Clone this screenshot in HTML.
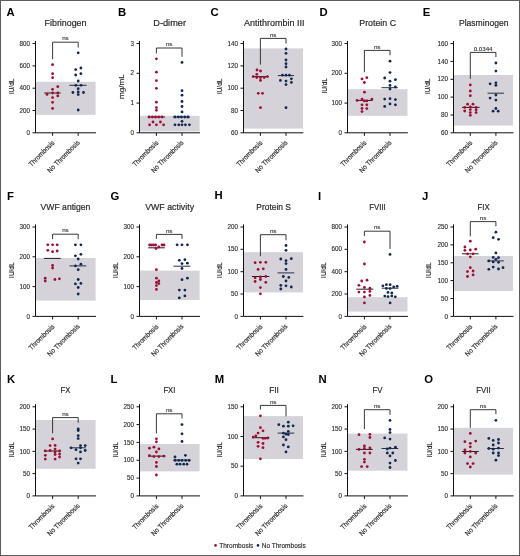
<!DOCTYPE html>
<html><head><meta charset="utf-8"><style>
html,body{margin:0;padding:0;background:#fff;}
body{width:520px;height:556px;overflow:hidden;}
svg{display:block;will-change:transform;}
text{font-family:"Liberation Sans", sans-serif;}
.lt{font-size:11.3px;font-weight:bold;fill:#000;}
.tt{font-size:9px;fill:#2a2a2a;stroke:#2a2a2a;stroke-width:0.2px;}
.tk{font-size:6.3px;fill:#2a2a2a;stroke:#2a2a2a;stroke-width:0.12px;text-anchor:end;}
.xl{font-size:7.0px;fill:#2a2a2a;stroke:#2a2a2a;stroke-width:0.18px;text-anchor:end;}
.yl{font-size:6.4px;fill:#2a2a2a;stroke:#2a2a2a;stroke-width:0.15px;text-anchor:middle;}
.ns{font-size:6.2px;fill:#2a2a2a;stroke:#2a2a2a;stroke-width:0.1px;text-anchor:middle;}
.lg{font-size:7px;fill:#2a2a2a;stroke:#2a2a2a;stroke-width:0.15px;}
.ax{stroke:#111;stroke-width:1;fill:none;}
.br{stroke:#222;stroke-width:0.9;fill:none;}
.md{stroke-width:1;fill:none;}
</style></head><body>
<svg width="520" height="556" viewBox="0 0 520 556">
<rect x="0.5" y="0.5" width="519" height="555" fill="#fff" stroke="#5c5c5c" stroke-width="1"/>
<text x="6.4" y="16.2" class="lt">A</text>
<text x="44.6" y="26.3" class="tt" textLength="41.8" lengthAdjust="spacingAndGlyphs">Fibrinogen</text>
<rect x="36.0" y="81.8" width="59.6" height="33.0" fill="#d5d3d9"/>
<path d="M35.5,41.0V132.8H96.0" class="ax"/>
<path d="M32.5,132.8H35.5" class="ax"/>
<text x="30.0" y="134.9" class="tk">0</text>
<path d="M32.5,110.5H35.5" class="ax"/>
<text x="30.0" y="112.6" class="tk">200</text>
<path d="M32.5,88.2H35.5" class="ax"/>
<text x="30.0" y="90.3" class="tk">400</text>
<path d="M32.5,65.9H35.5" class="ax"/>
<text x="30.0" y="68.0" class="tk">600</text>
<path d="M32.5,43.6H35.5" class="ax"/>
<text x="30.0" y="45.7" class="tk">800</text>
<path d="M52.6,132.8V135.8" class="ax"/>
<path d="M78.2,132.8V135.8" class="ax"/>
<text transform="translate(55.1,143.3) rotate(-45)" class="xl" textLength="33.4" lengthAdjust="spacingAndGlyphs">Thrombosis</text>
<text transform="translate(80.2,143.1) rotate(-45)" class="xl" textLength="42.6" lengthAdjust="spacingAndGlyphs">No Thrombosis</text>
<text transform="translate(13.6,86.4) rotate(-90)" class="yl" style="font-size:7.4px" textLength="15.4" lengthAdjust="spacingAndGlyphs">IU/dL</text>
<path d="M52.6,59.2V42.2H78.2V47.6" class="br"/>
<text x="65.4" y="40.3" class="ns">ns</text>
<path d="M44.3,93.0H60.7" class="md" stroke="#2a1a20"/>
<path d="M69.3,85.3H86.6" class="md" stroke="#283040"/>
<circle cx="52.6" cy="64.7" r="1.4" fill="#9e0d33"/>
<circle cx="52.6" cy="73.7" r="1.4" fill="#9e0d33"/>
<circle cx="52.6" cy="77.7" r="1.4" fill="#9e0d33"/>
<circle cx="57.8" cy="86.7" r="1.4" fill="#9e0d33"/>
<circle cx="52.6" cy="89.3" r="1.4" fill="#9e0d33"/>
<circle cx="47.0" cy="94.4" r="1.4" fill="#9e0d33"/>
<circle cx="52.6" cy="93.0" r="1.4" fill="#9e0d33"/>
<circle cx="57.8" cy="93.0" r="1.4" fill="#9e0d33"/>
<circle cx="57.8" cy="95.9" r="1.4" fill="#9e0d33"/>
<circle cx="52.6" cy="97.6" r="1.4" fill="#9e0d33"/>
<circle cx="52.6" cy="102.3" r="1.4" fill="#9e0d33"/>
<circle cx="52.6" cy="108.4" r="1.4" fill="#9e0d33"/>
<circle cx="78.2" cy="52.8" r="1.4" fill="#12284f"/>
<circle cx="75.7" cy="69.6" r="1.4" fill="#12284f"/>
<circle cx="80.9" cy="68.0" r="1.4" fill="#12284f"/>
<circle cx="75.7" cy="75.0" r="1.4" fill="#12284f"/>
<circle cx="80.9" cy="73.7" r="1.4" fill="#12284f"/>
<circle cx="78.2" cy="81.0" r="1.4" fill="#12284f"/>
<circle cx="75.8" cy="85.3" r="1.4" fill="#12284f"/>
<circle cx="81.1" cy="85.3" r="1.4" fill="#12284f"/>
<circle cx="78.2" cy="88.7" r="1.4" fill="#12284f"/>
<circle cx="72.9" cy="92.5" r="1.4" fill="#12284f"/>
<circle cx="78.2" cy="92.0" r="1.4" fill="#12284f"/>
<circle cx="83.5" cy="92.5" r="1.4" fill="#12284f"/>
<circle cx="78.2" cy="94.6" r="1.4" fill="#12284f"/>
<circle cx="78.2" cy="110.0" r="1.4" fill="#12284f"/>
<text x="117.9" y="16.0" class="lt">B</text>
<text x="153.3" y="26.3" class="tt" textLength="32.7" lengthAdjust="spacingAndGlyphs">D-dimer</text>
<rect x="140.0" y="115.8" width="59.6" height="15.6" fill="#d5d3d9"/>
<path d="M139.5,41.0V132.8H200.0" class="ax"/>
<path d="M136.5,132.8H139.5" class="ax"/>
<text x="134.0" y="134.9" class="tk">0</text>
<path d="M136.5,103.1H139.5" class="ax"/>
<text x="134.0" y="105.2" class="tk">1</text>
<path d="M136.5,73.3H139.5" class="ax"/>
<text x="134.0" y="75.4" class="tk">2</text>
<path d="M136.5,43.6H139.5" class="ax"/>
<text x="134.0" y="45.7" class="tk">3</text>
<path d="M156.4,132.8V135.8" class="ax"/>
<path d="M182.0,132.8V135.8" class="ax"/>
<text transform="translate(158.9,143.3) rotate(-45)" class="xl" textLength="33.4" lengthAdjust="spacingAndGlyphs">Thrombosis</text>
<text transform="translate(184.0,143.1) rotate(-45)" class="xl" textLength="42.6" lengthAdjust="spacingAndGlyphs">No Thrombosis</text>
<text transform="translate(124.0,86.7) rotate(-90)" class="yl" style="font-size:7.2px" textLength="24.7" lengthAdjust="spacingAndGlyphs">mg/mL</text>
<path d="M156.4,53.4V48.0H182.0V56.8" class="br"/>
<text x="169.2" y="46.1" class="ns">ns</text>
<path d="M148.4,117.0H165.0" class="md" stroke="#2a1a20"/>
<path d="M173.0,117.0H190.0" class="md" stroke="#283040"/>
<circle cx="156.4" cy="58.8" r="1.4" fill="#9e0d33"/>
<circle cx="156.4" cy="72.2" r="1.4" fill="#9e0d33"/>
<circle cx="156.4" cy="80.6" r="1.4" fill="#9e0d33"/>
<circle cx="156.4" cy="88.3" r="1.4" fill="#9e0d33"/>
<circle cx="156.4" cy="102.2" r="1.4" fill="#9e0d33"/>
<circle cx="156.4" cy="107.6" r="1.4" fill="#9e0d33"/>
<circle cx="156.4" cy="110.3" r="1.4" fill="#9e0d33"/>
<circle cx="149.0" cy="117.0" r="1.4" fill="#9e0d33"/>
<circle cx="152.4" cy="117.0" r="1.4" fill="#9e0d33"/>
<circle cx="155.6" cy="117.0" r="1.4" fill="#9e0d33"/>
<circle cx="158.8" cy="117.0" r="1.4" fill="#9e0d33"/>
<circle cx="162.0" cy="117.0" r="1.4" fill="#9e0d33"/>
<circle cx="153.0" cy="122.0" r="1.4" fill="#9e0d33"/>
<circle cx="160.4" cy="122.0" r="1.4" fill="#9e0d33"/>
<circle cx="149.6" cy="124.8" r="1.4" fill="#9e0d33"/>
<circle cx="156.4" cy="124.8" r="1.4" fill="#9e0d33"/>
<circle cx="163.6" cy="124.8" r="1.4" fill="#9e0d33"/>
<circle cx="182.0" cy="62.4" r="1.4" fill="#12284f"/>
<circle cx="182.0" cy="90.7" r="1.4" fill="#12284f"/>
<circle cx="182.0" cy="95.2" r="1.4" fill="#12284f"/>
<circle cx="182.0" cy="101.5" r="1.4" fill="#12284f"/>
<circle cx="182.0" cy="106.5" r="1.4" fill="#12284f"/>
<circle cx="182.0" cy="111.9" r="1.4" fill="#12284f"/>
<circle cx="175.0" cy="117.0" r="1.4" fill="#12284f"/>
<circle cx="178.4" cy="117.0" r="1.4" fill="#12284f"/>
<circle cx="181.4" cy="117.0" r="1.4" fill="#12284f"/>
<circle cx="184.8" cy="117.0" r="1.4" fill="#12284f"/>
<circle cx="188.0" cy="117.0" r="1.4" fill="#12284f"/>
<circle cx="182.0" cy="121.3" r="1.4" fill="#12284f"/>
<circle cx="175.0" cy="124.8" r="1.4" fill="#12284f"/>
<circle cx="178.8" cy="124.8" r="1.4" fill="#12284f"/>
<circle cx="182.0" cy="124.8" r="1.4" fill="#12284f"/>
<circle cx="185.4" cy="124.8" r="1.4" fill="#12284f"/>
<circle cx="189.4" cy="124.8" r="1.4" fill="#12284f"/>
<text x="210.4" y="16.4" class="lt">C</text>
<text x="244.0" y="26.3" class="tt" textLength="60.4" lengthAdjust="spacingAndGlyphs">Antithrombin III</text>
<rect x="244.0" y="48.4" width="59.0" height="80.2" fill="#d5d3d9"/>
<path d="M243.5,41.0V132.8H303.4" class="ax"/>
<path d="M240.5,132.8H243.5" class="ax"/>
<text x="238.0" y="134.9" class="tk">60</text>
<path d="M240.5,110.5H243.5" class="ax"/>
<text x="238.0" y="112.6" class="tk">80</text>
<path d="M240.5,88.2H243.5" class="ax"/>
<text x="238.0" y="90.3" class="tk">100</text>
<path d="M240.5,65.9H243.5" class="ax"/>
<text x="238.0" y="68.0" class="tk">120</text>
<path d="M240.5,43.6H243.5" class="ax"/>
<text x="238.0" y="45.7" class="tk">140</text>
<path d="M260.4,132.8V135.8" class="ax"/>
<path d="M286.0,132.8V135.8" class="ax"/>
<text transform="translate(262.9,143.3) rotate(-45)" class="xl" textLength="33.4" lengthAdjust="spacingAndGlyphs">Thrombosis</text>
<text transform="translate(288.0,143.1) rotate(-45)" class="xl" textLength="42.6" lengthAdjust="spacingAndGlyphs">No Thrombosis</text>
<text transform="translate(221.6,86.4) rotate(-90)" class="yl" style="font-size:7.4px" textLength="15.4" lengthAdjust="spacingAndGlyphs">IU/dL</text>
<path d="M260.4,64.6V38.4H286.0V43.6" class="br"/>
<text x="273.2" y="36.5" class="ns">ns</text>
<path d="M252.0,76.6H268.7" class="md" stroke="#2a1a20"/>
<path d="M277.8,75.6H294.0" class="md" stroke="#283040"/>
<circle cx="257.0" cy="70.0" r="1.4" fill="#9e0d33"/>
<circle cx="260.5" cy="71.0" r="1.4" fill="#9e0d33"/>
<circle cx="256.8" cy="74.3" r="1.4" fill="#9e0d33"/>
<circle cx="253.2" cy="76.6" r="1.4" fill="#9e0d33"/>
<circle cx="256.8" cy="77.5" r="1.4" fill="#9e0d33"/>
<circle cx="260.5" cy="77.5" r="1.4" fill="#9e0d33"/>
<circle cx="264.2" cy="77.5" r="1.4" fill="#9e0d33"/>
<circle cx="267.4" cy="76.6" r="1.4" fill="#9e0d33"/>
<circle cx="260.5" cy="80.4" r="1.4" fill="#9e0d33"/>
<circle cx="258.3" cy="93.3" r="1.4" fill="#9e0d33"/>
<circle cx="262.5" cy="93.3" r="1.4" fill="#9e0d33"/>
<circle cx="260.5" cy="107.7" r="1.4" fill="#9e0d33"/>
<circle cx="286.0" cy="49.0" r="1.4" fill="#12284f"/>
<circle cx="286.0" cy="53.3" r="1.4" fill="#12284f"/>
<circle cx="286.0" cy="60.0" r="1.4" fill="#12284f"/>
<circle cx="286.0" cy="63.7" r="1.4" fill="#12284f"/>
<circle cx="286.0" cy="67.0" r="1.4" fill="#12284f"/>
<circle cx="282.4" cy="75.2" r="1.4" fill="#12284f"/>
<circle cx="286.0" cy="75.2" r="1.4" fill="#12284f"/>
<circle cx="289.4" cy="75.2" r="1.4" fill="#12284f"/>
<circle cx="280.4" cy="80.4" r="1.4" fill="#12284f"/>
<circle cx="286.0" cy="81.1" r="1.4" fill="#12284f"/>
<circle cx="291.4" cy="78.8" r="1.4" fill="#12284f"/>
<circle cx="291.4" cy="82.4" r="1.4" fill="#12284f"/>
<circle cx="286.0" cy="84.6" r="1.4" fill="#12284f"/>
<circle cx="286.0" cy="107.7" r="1.4" fill="#12284f"/>
<text x="319.5" y="16.1" class="lt">D</text>
<text x="359.3" y="26.3" class="tt" textLength="36.7" lengthAdjust="spacingAndGlyphs">Protein C</text>
<rect x="348.0" y="89.2" width="59.5" height="26.6" fill="#d5d3d9"/>
<path d="M347.5,41.0V132.8H407.9" class="ax"/>
<path d="M344.5,132.8H347.5" class="ax"/>
<text x="342.0" y="134.9" class="tk">0</text>
<path d="M344.5,103.1H347.5" class="ax"/>
<text x="342.0" y="105.2" class="tk">100</text>
<path d="M344.5,73.3H347.5" class="ax"/>
<text x="342.0" y="75.4" class="tk">200</text>
<path d="M344.5,43.6H347.5" class="ax"/>
<text x="342.0" y="45.7" class="tk">300</text>
<path d="M364.4,132.8V135.8" class="ax"/>
<path d="M390.0,132.8V135.8" class="ax"/>
<text transform="translate(366.9,143.3) rotate(-45)" class="xl" textLength="33.4" lengthAdjust="spacingAndGlyphs">Thrombosis</text>
<text transform="translate(392.0,143.1) rotate(-45)" class="xl" textLength="42.6" lengthAdjust="spacingAndGlyphs">No Thrombosis</text>
<text transform="translate(326.9,85.9) rotate(-90)" class="yl" style="font-size:7.4px" textLength="15.4" lengthAdjust="spacingAndGlyphs">IU/dL</text>
<path d="M364.4,72.2V50.4H390.0V55.3" class="br"/>
<text x="377.2" y="48.5" class="ns">ns</text>
<path d="M355.9,100.4H372.7" class="md" stroke="#2a1a20"/>
<path d="M381.5,87.7H397.9" class="md" stroke="#283040"/>
<circle cx="362.0" cy="78.9" r="1.4" fill="#9e0d33"/>
<circle cx="366.8" cy="77.7" r="1.4" fill="#9e0d33"/>
<circle cx="364.4" cy="82.5" r="1.4" fill="#9e0d33"/>
<circle cx="364.4" cy="92.2" r="1.4" fill="#9e0d33"/>
<circle cx="357.1" cy="100.4" r="1.4" fill="#9e0d33"/>
<circle cx="362.0" cy="99.1" r="1.4" fill="#9e0d33"/>
<circle cx="364.4" cy="100.9" r="1.4" fill="#9e0d33"/>
<circle cx="366.8" cy="100.9" r="1.4" fill="#9e0d33"/>
<circle cx="371.9" cy="99.1" r="1.4" fill="#9e0d33"/>
<circle cx="362.0" cy="104.8" r="1.4" fill="#9e0d33"/>
<circle cx="366.8" cy="104.8" r="1.4" fill="#9e0d33"/>
<circle cx="362.0" cy="108.4" r="1.4" fill="#9e0d33"/>
<circle cx="366.8" cy="108.6" r="1.4" fill="#9e0d33"/>
<circle cx="362.0" cy="111.6" r="1.4" fill="#9e0d33"/>
<circle cx="390.0" cy="61.2" r="1.4" fill="#12284f"/>
<circle cx="390.0" cy="72.6" r="1.4" fill="#12284f"/>
<circle cx="384.7" cy="78.0" r="1.4" fill="#12284f"/>
<circle cx="395.4" cy="79.7" r="1.4" fill="#12284f"/>
<circle cx="390.0" cy="81.2" r="1.4" fill="#12284f"/>
<circle cx="390.0" cy="85.4" r="1.4" fill="#12284f"/>
<circle cx="395.4" cy="87.0" r="1.4" fill="#12284f"/>
<circle cx="390.0" cy="89.0" r="1.4" fill="#12284f"/>
<circle cx="384.7" cy="99.1" r="1.4" fill="#12284f"/>
<circle cx="390.0" cy="98.7" r="1.4" fill="#12284f"/>
<circle cx="395.4" cy="99.6" r="1.4" fill="#12284f"/>
<circle cx="384.7" cy="106.4" r="1.4" fill="#12284f"/>
<circle cx="390.0" cy="103.9" r="1.4" fill="#12284f"/>
<circle cx="395.4" cy="104.8" r="1.4" fill="#12284f"/>
<text x="422.7" y="15.9" class="lt">E</text>
<text x="459.0" y="26.3" class="tt" textLength="49.4" lengthAdjust="spacingAndGlyphs">Plasminogen</text>
<rect x="454.0" y="75.0" width="59.1" height="50.6" fill="#d5d3d9"/>
<path d="M453.5,41.0V132.8H513.5" class="ax"/>
<path d="M450.5,132.8H453.5" class="ax"/>
<text x="448.0" y="134.9" class="tk">60</text>
<path d="M450.5,115.0H453.5" class="ax"/>
<text x="448.0" y="117.1" class="tk">80</text>
<path d="M450.5,97.1H453.5" class="ax"/>
<text x="448.0" y="99.2" class="tk">100</text>
<path d="M450.5,79.3H453.5" class="ax"/>
<text x="448.0" y="81.4" class="tk">120</text>
<path d="M450.5,61.4H453.5" class="ax"/>
<text x="448.0" y="63.5" class="tk">140</text>
<path d="M450.5,43.6H453.5" class="ax"/>
<text x="448.0" y="45.7" class="tk">160</text>
<path d="M470.3,132.8V135.8" class="ax"/>
<path d="M495.9,132.8V135.8" class="ax"/>
<text transform="translate(472.8,143.3) rotate(-45)" class="xl" textLength="33.4" lengthAdjust="spacingAndGlyphs">Thrombosis</text>
<text transform="translate(497.9,143.1) rotate(-45)" class="xl" textLength="42.6" lengthAdjust="spacingAndGlyphs">No Thrombosis</text>
<text transform="translate(429.7,86.4) rotate(-90)" class="yl" style="font-size:7.4px" textLength="15.4" lengthAdjust="spacingAndGlyphs">IU/dL</text>
<path d="M470.3,78.8V52.4H495.9V57.2" class="br"/>
<text x="483.1" y="50.5" class="ns">0.0344</text>
<path d="M462.0,107.4H479.6" class="md" stroke="#2a1a20"/>
<path d="M487.5,93.2H504.0" class="md" stroke="#283040"/>
<circle cx="470.3" cy="84.9" r="1.4" fill="#9e0d33"/>
<circle cx="470.3" cy="91.0" r="1.4" fill="#9e0d33"/>
<circle cx="470.3" cy="95.7" r="1.4" fill="#9e0d33"/>
<circle cx="467.6" cy="104.2" r="1.4" fill="#9e0d33"/>
<circle cx="473.0" cy="104.2" r="1.4" fill="#9e0d33"/>
<circle cx="464.7" cy="107.4" r="1.4" fill="#9e0d33"/>
<circle cx="470.3" cy="106.9" r="1.4" fill="#9e0d33"/>
<circle cx="476.1" cy="107.4" r="1.4" fill="#9e0d33"/>
<circle cx="464.7" cy="111.0" r="1.4" fill="#9e0d33"/>
<circle cx="470.3" cy="109.6" r="1.4" fill="#9e0d33"/>
<circle cx="476.1" cy="109.9" r="1.4" fill="#9e0d33"/>
<circle cx="470.3" cy="112.6" r="1.4" fill="#9e0d33"/>
<circle cx="476.1" cy="112.6" r="1.4" fill="#9e0d33"/>
<circle cx="470.3" cy="115.3" r="1.4" fill="#9e0d33"/>
<circle cx="495.9" cy="63.0" r="1.4" fill="#12284f"/>
<circle cx="495.9" cy="71.1" r="1.4" fill="#12284f"/>
<circle cx="490.1" cy="83.8" r="1.4" fill="#12284f"/>
<circle cx="495.9" cy="82.8" r="1.4" fill="#12284f"/>
<circle cx="495.9" cy="85.3" r="1.4" fill="#12284f"/>
<circle cx="495.9" cy="95.0" r="1.4" fill="#12284f"/>
<circle cx="490.1" cy="98.1" r="1.4" fill="#12284f"/>
<circle cx="495.9" cy="100.1" r="1.4" fill="#12284f"/>
<circle cx="493.1" cy="111.2" r="1.4" fill="#12284f"/>
<circle cx="498.2" cy="111.2" r="1.4" fill="#12284f"/>
<circle cx="495.9" cy="108.5" r="1.4" fill="#12284f"/>
<text x="7.0" y="200.0" class="lt">F</text>
<text x="40.6" y="209.6" class="tt" textLength="49.8" lengthAdjust="spacingAndGlyphs">VWF antigen</text>
<rect x="36.0" y="258.0" width="59.6" height="42.6" fill="#d5d3d9"/>
<path d="M35.5,224.4V316.4H96.0" class="ax"/>
<path d="M32.5,316.4H35.5" class="ax"/>
<text x="30.0" y="318.5" class="tk">0</text>
<path d="M32.5,286.6H35.5" class="ax"/>
<text x="30.0" y="288.7" class="tk">100</text>
<path d="M32.5,256.8H35.5" class="ax"/>
<text x="30.0" y="258.9" class="tk">200</text>
<path d="M32.5,227.0H35.5" class="ax"/>
<text x="30.0" y="229.1" class="tk">300</text>
<path d="M52.6,316.4V319.4" class="ax"/>
<path d="M78.2,316.4V319.4" class="ax"/>
<text transform="translate(55.1,326.9) rotate(-45)" class="xl" textLength="33.4" lengthAdjust="spacingAndGlyphs">Thrombosis</text>
<text transform="translate(80.2,326.7) rotate(-45)" class="xl" textLength="42.6" lengthAdjust="spacingAndGlyphs">No Thrombosis</text>
<text transform="translate(13.6,270.2) rotate(-90)" class="yl" style="font-size:7.4px" textLength="15.4" lengthAdjust="spacingAndGlyphs">IU/dL</text>
<path d="M52.6,239.2V234.2H78.2V239.2" class="br"/>
<text x="65.4" y="232.3" class="ns">ns</text>
<path d="M43.9,258.4H60.7" class="md" stroke="#2a1a20"/>
<path d="M69.5,265.9H86.3" class="md" stroke="#283040"/>
<circle cx="47.8" cy="244.8" r="1.4" fill="#9e0d33"/>
<circle cx="52.6" cy="244.8" r="1.4" fill="#9e0d33"/>
<circle cx="57.2" cy="244.8" r="1.4" fill="#9e0d33"/>
<circle cx="47.8" cy="250.3" r="1.4" fill="#9e0d33"/>
<circle cx="52.6" cy="251.7" r="1.4" fill="#9e0d33"/>
<circle cx="57.2" cy="251.0" r="1.4" fill="#9e0d33"/>
<circle cx="52.6" cy="265.5" r="1.4" fill="#9e0d33"/>
<circle cx="52.6" cy="268.1" r="1.4" fill="#9e0d33"/>
<circle cx="45.2" cy="278.2" r="1.4" fill="#9e0d33"/>
<circle cx="45.2" cy="281.0" r="1.4" fill="#9e0d33"/>
<circle cx="54.9" cy="279.5" r="1.4" fill="#9e0d33"/>
<circle cx="59.4" cy="278.8" r="1.4" fill="#9e0d33"/>
<circle cx="75.4" cy="244.8" r="1.4" fill="#12284f"/>
<circle cx="80.9" cy="244.8" r="1.4" fill="#12284f"/>
<circle cx="75.4" cy="255.8" r="1.4" fill="#12284f"/>
<circle cx="80.9" cy="254.3" r="1.4" fill="#12284f"/>
<circle cx="78.2" cy="259.0" r="1.4" fill="#12284f"/>
<circle cx="80.9" cy="264.2" r="1.4" fill="#12284f"/>
<circle cx="75.4" cy="265.9" r="1.4" fill="#12284f"/>
<circle cx="78.2" cy="269.7" r="1.4" fill="#12284f"/>
<circle cx="78.2" cy="279.5" r="1.4" fill="#12284f"/>
<circle cx="75.4" cy="283.9" r="1.4" fill="#12284f"/>
<circle cx="80.9" cy="283.4" r="1.4" fill="#12284f"/>
<circle cx="78.2" cy="287.5" r="1.4" fill="#12284f"/>
<circle cx="78.2" cy="294.0" r="1.4" fill="#12284f"/>
<text x="110.4" y="199.6" class="lt">G</text>
<text x="145.2" y="209.6" class="tt" textLength="48.9" lengthAdjust="spacingAndGlyphs">VWF activity</text>
<rect x="140.0" y="270.6" width="59.6" height="29.4" fill="#d5d3d9"/>
<path d="M139.5,224.4V316.4H200.0" class="ax"/>
<path d="M136.5,316.4H139.5" class="ax"/>
<text x="134.0" y="318.5" class="tk">0</text>
<path d="M136.5,286.6H139.5" class="ax"/>
<text x="134.0" y="288.7" class="tk">100</text>
<path d="M136.5,256.8H139.5" class="ax"/>
<text x="134.0" y="258.9" class="tk">200</text>
<path d="M136.5,227.0H139.5" class="ax"/>
<text x="134.0" y="229.1" class="tk">300</text>
<path d="M156.4,316.4V319.4" class="ax"/>
<path d="M182.0,316.4V319.4" class="ax"/>
<text transform="translate(158.9,326.9) rotate(-45)" class="xl" textLength="33.4" lengthAdjust="spacingAndGlyphs">Thrombosis</text>
<text transform="translate(184.0,326.7) rotate(-45)" class="xl" textLength="42.6" lengthAdjust="spacingAndGlyphs">No Thrombosis</text>
<text transform="translate(117.6,270.2) rotate(-90)" class="yl" style="font-size:7.4px" textLength="15.4" lengthAdjust="spacingAndGlyphs">IU/dL</text>
<path d="M156.4,238.8V234.4H182.0V238.8" class="br"/>
<text x="169.2" y="232.5" class="ns">ns</text>
<path d="M148.2,247.8H164.8" class="md" stroke="#2a1a20"/>
<path d="M173.5,266.2H190.3" class="md" stroke="#283040"/>
<circle cx="149.6" cy="245.0" r="1.4" fill="#9e0d33"/>
<circle cx="151.6" cy="245.0" r="1.4" fill="#9e0d33"/>
<circle cx="153.6" cy="245.0" r="1.4" fill="#9e0d33"/>
<circle cx="155.6" cy="245.0" r="1.4" fill="#9e0d33"/>
<circle cx="162.0" cy="245.0" r="1.4" fill="#9e0d33"/>
<circle cx="164.0" cy="245.0" r="1.4" fill="#9e0d33"/>
<circle cx="158.8" cy="247.0" r="1.4" fill="#9e0d33"/>
<circle cx="156.0" cy="248.6" r="1.4" fill="#9e0d33"/>
<circle cx="156.4" cy="269.7" r="1.4" fill="#9e0d33"/>
<circle cx="156.4" cy="278.2" r="1.4" fill="#9e0d33"/>
<circle cx="158.8" cy="281.0" r="1.4" fill="#9e0d33"/>
<circle cx="156.4" cy="282.5" r="1.4" fill="#9e0d33"/>
<circle cx="158.8" cy="283.6" r="1.4" fill="#9e0d33"/>
<circle cx="156.4" cy="285.6" r="1.4" fill="#9e0d33"/>
<circle cx="156.4" cy="289.4" r="1.4" fill="#9e0d33"/>
<circle cx="177.1" cy="244.8" r="1.4" fill="#12284f"/>
<circle cx="182.0" cy="244.8" r="1.4" fill="#12284f"/>
<circle cx="187.4" cy="244.8" r="1.4" fill="#12284f"/>
<circle cx="179.3" cy="260.3" r="1.4" fill="#12284f"/>
<circle cx="184.9" cy="259.7" r="1.4" fill="#12284f"/>
<circle cx="182.0" cy="263.6" r="1.4" fill="#12284f"/>
<circle cx="187.4" cy="263.2" r="1.4" fill="#12284f"/>
<circle cx="182.0" cy="268.5" r="1.4" fill="#12284f"/>
<circle cx="182.0" cy="279.7" r="1.4" fill="#12284f"/>
<circle cx="187.4" cy="278.2" r="1.4" fill="#12284f"/>
<circle cx="179.3" cy="290.1" r="1.4" fill="#12284f"/>
<circle cx="184.9" cy="290.1" r="1.4" fill="#12284f"/>
<circle cx="184.9" cy="295.9" r="1.4" fill="#12284f"/>
<circle cx="179.3" cy="297.9" r="1.4" fill="#12284f"/>
<text x="214.6" y="199.4" class="lt">H</text>
<text x="256.3" y="209.6" class="tt" textLength="34.7" lengthAdjust="spacingAndGlyphs">Protein S</text>
<rect x="244.0" y="252.2" width="59.0" height="40.2" fill="#d5d3d9"/>
<path d="M243.5,224.4V316.4H303.4" class="ax"/>
<path d="M240.5,316.4H243.5" class="ax"/>
<text x="238.0" y="318.5" class="tk">0</text>
<path d="M240.5,294.0H243.5" class="ax"/>
<text x="238.0" y="296.1" class="tk">50</text>
<path d="M240.5,271.7H243.5" class="ax"/>
<text x="238.0" y="273.8" class="tk">100</text>
<path d="M240.5,249.3H243.5" class="ax"/>
<text x="238.0" y="251.4" class="tk">150</text>
<path d="M240.5,227.0H243.5" class="ax"/>
<text x="238.0" y="229.1" class="tk">200</text>
<path d="M260.4,316.4V319.4" class="ax"/>
<path d="M286.0,316.4V319.4" class="ax"/>
<text transform="translate(262.9,326.9) rotate(-45)" class="xl" textLength="33.4" lengthAdjust="spacingAndGlyphs">Thrombosis</text>
<text transform="translate(288.0,326.7) rotate(-45)" class="xl" textLength="42.6" lengthAdjust="spacingAndGlyphs">No Thrombosis</text>
<text transform="translate(221.7,270.2) rotate(-90)" class="yl" style="font-size:7.4px" textLength="15.4" lengthAdjust="spacingAndGlyphs">IU/dL</text>
<path d="M260.4,256.2V234.7H286.0V240.3" class="br"/>
<text x="273.2" y="232.8" class="ns">ns</text>
<path d="M251.9,276.5H269.3" class="md" stroke="#2a1a20"/>
<path d="M277.5,272.9H294.3" class="md" stroke="#283040"/>
<circle cx="255.1" cy="262.7" r="1.4" fill="#9e0d33"/>
<circle cx="260.4" cy="262.3" r="1.4" fill="#9e0d33"/>
<circle cx="265.8" cy="262.3" r="1.4" fill="#9e0d33"/>
<circle cx="258.1" cy="269.4" r="1.4" fill="#9e0d33"/>
<circle cx="263.3" cy="268.8" r="1.4" fill="#9e0d33"/>
<circle cx="255.1" cy="277.8" r="1.4" fill="#9e0d33"/>
<circle cx="260.4" cy="276.9" r="1.4" fill="#9e0d33"/>
<circle cx="265.8" cy="276.5" r="1.4" fill="#9e0d33"/>
<circle cx="260.4" cy="279.5" r="1.4" fill="#9e0d33"/>
<circle cx="255.1" cy="281.5" r="1.4" fill="#9e0d33"/>
<circle cx="265.8" cy="282.3" r="1.4" fill="#9e0d33"/>
<circle cx="260.4" cy="287.6" r="1.4" fill="#9e0d33"/>
<circle cx="260.4" cy="293.8" r="1.4" fill="#9e0d33"/>
<circle cx="286.0" cy="245.5" r="1.4" fill="#12284f"/>
<circle cx="286.0" cy="250.3" r="1.4" fill="#12284f"/>
<circle cx="280.8" cy="259.0" r="1.4" fill="#12284f"/>
<circle cx="291.3" cy="258.7" r="1.4" fill="#12284f"/>
<circle cx="286.0" cy="260.7" r="1.4" fill="#12284f"/>
<circle cx="286.0" cy="263.6" r="1.4" fill="#12284f"/>
<circle cx="286.0" cy="269.4" r="1.4" fill="#12284f"/>
<circle cx="283.3" cy="276.5" r="1.4" fill="#12284f"/>
<circle cx="288.8" cy="277.4" r="1.4" fill="#12284f"/>
<circle cx="286.0" cy="281.0" r="1.4" fill="#12284f"/>
<circle cx="280.8" cy="285.3" r="1.4" fill="#12284f"/>
<circle cx="286.0" cy="285.8" r="1.4" fill="#12284f"/>
<circle cx="291.3" cy="287.0" r="1.4" fill="#12284f"/>
<circle cx="280.8" cy="289.0" r="1.4" fill="#12284f"/>
<text x="318.1" y="199.6" class="lt">I</text>
<text x="369.2" y="209.6" class="tt" textLength="16.6" lengthAdjust="spacingAndGlyphs">FVIII</text>
<rect x="348.0" y="297.2" width="59.5" height="14.4" fill="#d5d3d9"/>
<path d="M347.5,224.4V316.4H407.9" class="ax"/>
<path d="M344.5,316.4H347.5" class="ax"/>
<text x="342.0" y="318.5" class="tk">0</text>
<path d="M344.5,294.0H347.5" class="ax"/>
<text x="342.0" y="296.1" class="tk">200</text>
<path d="M344.5,271.7H347.5" class="ax"/>
<text x="342.0" y="273.8" class="tk">400</text>
<path d="M344.5,249.3H347.5" class="ax"/>
<text x="342.0" y="251.4" class="tk">600</text>
<path d="M344.5,227.0H347.5" class="ax"/>
<text x="342.0" y="229.1" class="tk">800</text>
<path d="M364.4,316.4V319.4" class="ax"/>
<path d="M390.0,316.4V319.4" class="ax"/>
<text transform="translate(366.9,326.9) rotate(-45)" class="xl" textLength="33.4" lengthAdjust="spacingAndGlyphs">Thrombosis</text>
<text transform="translate(392.0,326.7) rotate(-45)" class="xl" textLength="42.6" lengthAdjust="spacingAndGlyphs">No Thrombosis</text>
<text transform="translate(325.7,270.2) rotate(-90)" class="yl" style="font-size:7.4px" textLength="15.4" lengthAdjust="spacingAndGlyphs">IU/dL</text>
<path d="M364.4,236.0V231.2H390.0V248.9" class="br"/>
<text x="377.2" y="229.3" class="ns">ns</text>
<path d="M356.3,289.2H373.3" class="md" stroke="#2a1a20"/>
<path d="M381.7,288.2H398.6" class="md" stroke="#283040"/>
<circle cx="364.4" cy="242.0" r="1.4" fill="#9e0d33"/>
<circle cx="364.4" cy="264.0" r="1.4" fill="#9e0d33"/>
<circle cx="361.7" cy="281.0" r="1.4" fill="#9e0d33"/>
<circle cx="367.0" cy="280.2" r="1.4" fill="#9e0d33"/>
<circle cx="358.9" cy="285.3" r="1.4" fill="#9e0d33"/>
<circle cx="364.4" cy="287.4" r="1.4" fill="#9e0d33"/>
<circle cx="369.9" cy="288.2" r="1.4" fill="#9e0d33"/>
<circle cx="358.9" cy="292.1" r="1.4" fill="#9e0d33"/>
<circle cx="364.4" cy="292.1" r="1.4" fill="#9e0d33"/>
<circle cx="369.9" cy="291.4" r="1.4" fill="#9e0d33"/>
<circle cx="364.4" cy="296.9" r="1.4" fill="#9e0d33"/>
<circle cx="369.9" cy="295.4" r="1.4" fill="#9e0d33"/>
<circle cx="364.4" cy="302.9" r="1.4" fill="#9e0d33"/>
<circle cx="390.0" cy="254.4" r="1.4" fill="#12284f"/>
<circle cx="382.9" cy="285.8" r="1.4" fill="#12284f"/>
<circle cx="386.4" cy="284.7" r="1.4" fill="#12284f"/>
<circle cx="390.1" cy="284.7" r="1.4" fill="#12284f"/>
<circle cx="393.7" cy="287.0" r="1.4" fill="#12284f"/>
<circle cx="397.2" cy="286.3" r="1.4" fill="#12284f"/>
<circle cx="386.4" cy="288.4" r="1.4" fill="#12284f"/>
<circle cx="390.1" cy="288.6" r="1.4" fill="#12284f"/>
<circle cx="388.0" cy="292.4" r="1.4" fill="#12284f"/>
<circle cx="391.8" cy="292.9" r="1.4" fill="#12284f"/>
<circle cx="384.8" cy="296.1" r="1.4" fill="#12284f"/>
<circle cx="388.0" cy="296.6" r="1.4" fill="#12284f"/>
<circle cx="391.8" cy="295.9" r="1.4" fill="#12284f"/>
<circle cx="395.3" cy="296.8" r="1.4" fill="#12284f"/>
<circle cx="390.1" cy="302.9" r="1.4" fill="#12284f"/>
<text x="422.1" y="199.5" class="lt">J</text>
<text x="477.6" y="209.6" class="tt" textLength="12.1" lengthAdjust="spacingAndGlyphs">FIX</text>
<rect x="454.0" y="256.0" width="59.1" height="35.0" fill="#d5d3d9"/>
<path d="M453.5,224.4V316.4H513.5" class="ax"/>
<path d="M450.5,316.4H453.5" class="ax"/>
<text x="448.0" y="318.5" class="tk">0</text>
<path d="M450.5,298.5H453.5" class="ax"/>
<text x="448.0" y="300.6" class="tk">50</text>
<path d="M450.5,280.6H453.5" class="ax"/>
<text x="448.0" y="282.7" class="tk">100</text>
<path d="M450.5,262.8H453.5" class="ax"/>
<text x="448.0" y="264.9" class="tk">150</text>
<path d="M450.5,244.9H453.5" class="ax"/>
<text x="448.0" y="247.0" class="tk">200</text>
<path d="M450.5,227.0H453.5" class="ax"/>
<text x="448.0" y="229.1" class="tk">250</text>
<path d="M470.3,316.4V319.4" class="ax"/>
<path d="M495.9,316.4V319.4" class="ax"/>
<text transform="translate(472.8,326.9) rotate(-45)" class="xl" textLength="33.4" lengthAdjust="spacingAndGlyphs">Thrombosis</text>
<text transform="translate(497.9,326.7) rotate(-45)" class="xl" textLength="42.6" lengthAdjust="spacingAndGlyphs">No Thrombosis</text>
<text transform="translate(431.4,270.2) rotate(-90)" class="yl" style="font-size:7.4px" textLength="15.4" lengthAdjust="spacingAndGlyphs">IU/dL</text>
<path d="M470.3,236.4V221.6H495.9V226.3" class="br"/>
<text x="483.1" y="219.7" class="ns">ns</text>
<path d="M461.9,253.8H478.7" class="md" stroke="#2a1a20"/>
<path d="M487.5,260.9H503.9" class="md" stroke="#283040"/>
<circle cx="470.3" cy="241.2" r="1.4" fill="#9e0d33"/>
<circle cx="464.9" cy="247.0" r="1.4" fill="#9e0d33"/>
<circle cx="464.9" cy="250.3" r="1.4" fill="#9e0d33"/>
<circle cx="470.3" cy="250.0" r="1.4" fill="#9e0d33"/>
<circle cx="475.7" cy="249.2" r="1.4" fill="#9e0d33"/>
<circle cx="467.5" cy="253.8" r="1.4" fill="#9e0d33"/>
<circle cx="473.1" cy="253.8" r="1.4" fill="#9e0d33"/>
<circle cx="470.3" cy="256.8" r="1.4" fill="#9e0d33"/>
<circle cx="470.3" cy="267.7" r="1.4" fill="#9e0d33"/>
<circle cx="467.5" cy="271.6" r="1.4" fill="#9e0d33"/>
<circle cx="473.1" cy="271.0" r="1.4" fill="#9e0d33"/>
<circle cx="473.1" cy="274.9" r="1.4" fill="#9e0d33"/>
<circle cx="467.5" cy="276.5" r="1.4" fill="#9e0d33"/>
<circle cx="495.9" cy="232.2" r="1.4" fill="#12284f"/>
<circle cx="493.2" cy="237.7" r="1.4" fill="#12284f"/>
<circle cx="498.5" cy="239.3" r="1.4" fill="#12284f"/>
<circle cx="495.9" cy="252.9" r="1.4" fill="#12284f"/>
<circle cx="493.2" cy="257.4" r="1.4" fill="#12284f"/>
<circle cx="498.5" cy="257.7" r="1.4" fill="#12284f"/>
<circle cx="495.9" cy="259.3" r="1.4" fill="#12284f"/>
<circle cx="488.8" cy="260.9" r="1.4" fill="#12284f"/>
<circle cx="493.2" cy="261.9" r="1.4" fill="#12284f"/>
<circle cx="498.5" cy="262.3" r="1.4" fill="#12284f"/>
<circle cx="493.2" cy="267.1" r="1.4" fill="#12284f"/>
<circle cx="498.5" cy="269.0" r="1.4" fill="#12284f"/>
<circle cx="488.8" cy="269.3" r="1.4" fill="#12284f"/>
<circle cx="503.0" cy="267.7" r="1.4" fill="#12284f"/>
<text x="7.0" y="383.0" class="lt">K</text>
<text x="60.6" y="393.0" class="tt" textLength="9.8" lengthAdjust="spacingAndGlyphs">FX</text>
<rect x="36.0" y="420.0" width="59.6" height="48.8" fill="#d5d3d9"/>
<path d="M35.5,404.2V495.9H96.0" class="ax"/>
<path d="M32.5,495.9H35.5" class="ax"/>
<text x="30.0" y="498.0" class="tk">0</text>
<path d="M32.5,473.6H35.5" class="ax"/>
<text x="30.0" y="475.7" class="tk">50</text>
<path d="M32.5,451.4H35.5" class="ax"/>
<text x="30.0" y="453.5" class="tk">100</text>
<path d="M32.5,429.1H35.5" class="ax"/>
<text x="30.0" y="431.2" class="tk">150</text>
<path d="M32.5,406.8H35.5" class="ax"/>
<text x="30.0" y="408.9" class="tk">200</text>
<path d="M52.6,495.9V498.9" class="ax"/>
<path d="M78.2,495.9V498.9" class="ax"/>
<text transform="translate(55.1,506.4) rotate(-45)" class="xl" textLength="33.4" lengthAdjust="spacingAndGlyphs">Thrombosis</text>
<text transform="translate(80.2,506.2) rotate(-45)" class="xl" textLength="42.6" lengthAdjust="spacingAndGlyphs">No Thrombosis</text>
<text transform="translate(13.6,449.9) rotate(-90)" class="yl" style="font-size:7.4px" textLength="15.4" lengthAdjust="spacingAndGlyphs">IU/dL</text>
<path d="M52.6,433.2V417.6H78.2V422.7" class="br"/>
<text x="65.4" y="415.7" class="ns">ns</text>
<path d="M43.8,451.0H61.0" class="md" stroke="#2a1a20"/>
<path d="M69.7,447.8H85.8" class="md" stroke="#283040"/>
<circle cx="52.6" cy="438.9" r="1.4" fill="#9e0d33"/>
<circle cx="50.1" cy="445.6" r="1.4" fill="#9e0d33"/>
<circle cx="55.1" cy="445.4" r="1.4" fill="#9e0d33"/>
<circle cx="45.3" cy="450.8" r="1.4" fill="#9e0d33"/>
<circle cx="50.1" cy="450.5" r="1.4" fill="#9e0d33"/>
<circle cx="55.1" cy="449.1" r="1.4" fill="#9e0d33"/>
<circle cx="59.6" cy="450.8" r="1.4" fill="#9e0d33"/>
<circle cx="55.1" cy="452.0" r="1.4" fill="#9e0d33"/>
<circle cx="45.3" cy="455.3" r="1.4" fill="#9e0d33"/>
<circle cx="55.1" cy="454.5" r="1.4" fill="#9e0d33"/>
<circle cx="59.6" cy="454.0" r="1.4" fill="#9e0d33"/>
<circle cx="59.6" cy="457.0" r="1.4" fill="#9e0d33"/>
<circle cx="45.3" cy="459.1" r="1.4" fill="#9e0d33"/>
<circle cx="55.1" cy="459.1" r="1.4" fill="#9e0d33"/>
<circle cx="78.2" cy="428.9" r="1.4" fill="#12284f"/>
<circle cx="78.2" cy="430.5" r="1.4" fill="#12284f"/>
<circle cx="78.2" cy="435.7" r="1.4" fill="#12284f"/>
<circle cx="78.2" cy="438.6" r="1.4" fill="#12284f"/>
<circle cx="71.1" cy="447.8" r="1.4" fill="#12284f"/>
<circle cx="76.0" cy="449.7" r="1.4" fill="#12284f"/>
<circle cx="80.5" cy="445.6" r="1.4" fill="#12284f"/>
<circle cx="80.5" cy="447.8" r="1.4" fill="#12284f"/>
<circle cx="85.2" cy="445.6" r="1.4" fill="#12284f"/>
<circle cx="85.2" cy="450.5" r="1.4" fill="#12284f"/>
<circle cx="80.5" cy="451.9" r="1.4" fill="#12284f"/>
<circle cx="76.0" cy="458.8" r="1.4" fill="#12284f"/>
<circle cx="80.5" cy="458.8" r="1.4" fill="#12284f"/>
<circle cx="78.2" cy="463.1" r="1.4" fill="#12284f"/>
<text x="110.6" y="383.3" class="lt">L</text>
<text x="163.4" y="393.0" class="tt" textLength="12.0" lengthAdjust="spacingAndGlyphs">FXI</text>
<rect x="140.0" y="444.0" width="59.6" height="27.4" fill="#d5d3d9"/>
<path d="M139.5,404.2V495.9H200.0" class="ax"/>
<path d="M136.5,495.9H139.5" class="ax"/>
<text x="134.0" y="498.0" class="tk">0</text>
<path d="M136.5,478.1H139.5" class="ax"/>
<text x="134.0" y="480.2" class="tk">50</text>
<path d="M136.5,460.3H139.5" class="ax"/>
<text x="134.0" y="462.4" class="tk">100</text>
<path d="M136.5,442.4H139.5" class="ax"/>
<text x="134.0" y="444.5" class="tk">150</text>
<path d="M136.5,424.6H139.5" class="ax"/>
<text x="134.0" y="426.7" class="tk">200</text>
<path d="M136.5,406.8H139.5" class="ax"/>
<text x="134.0" y="408.9" class="tk">250</text>
<path d="M156.4,495.9V498.9" class="ax"/>
<path d="M182.0,495.9V498.9" class="ax"/>
<text transform="translate(158.9,506.4) rotate(-45)" class="xl" textLength="33.4" lengthAdjust="spacingAndGlyphs">Thrombosis</text>
<text transform="translate(184.0,506.2) rotate(-45)" class="xl" textLength="42.6" lengthAdjust="spacingAndGlyphs">No Thrombosis</text>
<text transform="translate(117.7,449.9) rotate(-90)" class="yl" style="font-size:7.4px" textLength="15.4" lengthAdjust="spacingAndGlyphs">IU/dL</text>
<path d="M156.4,433.4V413.8H182.0V418.5" class="br"/>
<text x="169.2" y="411.9" class="ns">ns</text>
<path d="M148.0,456.1H165.6" class="md" stroke="#2a1a20"/>
<path d="M173.0,460.1H190.6" class="md" stroke="#283040"/>
<circle cx="156.4" cy="438.8" r="1.4" fill="#9e0d33"/>
<circle cx="156.4" cy="441.8" r="1.4" fill="#9e0d33"/>
<circle cx="149.4" cy="448.2" r="1.4" fill="#9e0d33"/>
<circle cx="153.9" cy="447.2" r="1.4" fill="#9e0d33"/>
<circle cx="158.9" cy="448.9" r="1.4" fill="#9e0d33"/>
<circle cx="156.4" cy="452.0" r="1.4" fill="#9e0d33"/>
<circle cx="149.4" cy="455.7" r="1.4" fill="#9e0d33"/>
<circle cx="153.9" cy="456.6" r="1.4" fill="#9e0d33"/>
<circle cx="158.9" cy="456.6" r="1.4" fill="#9e0d33"/>
<circle cx="163.8" cy="456.1" r="1.4" fill="#9e0d33"/>
<circle cx="156.4" cy="462.4" r="1.4" fill="#9e0d33"/>
<circle cx="156.4" cy="466.5" r="1.4" fill="#9e0d33"/>
<circle cx="156.4" cy="475.0" r="1.4" fill="#9e0d33"/>
<circle cx="182.0" cy="424.6" r="1.4" fill="#12284f"/>
<circle cx="182.0" cy="433.8" r="1.4" fill="#12284f"/>
<circle cx="182.0" cy="441.5" r="1.4" fill="#12284f"/>
<circle cx="185.4" cy="455.3" r="1.4" fill="#12284f"/>
<circle cx="175.0" cy="457.0" r="1.4" fill="#12284f"/>
<circle cx="175.2" cy="460.4" r="1.4" fill="#12284f"/>
<circle cx="178.7" cy="460.4" r="1.4" fill="#12284f"/>
<circle cx="182.0" cy="460.4" r="1.4" fill="#12284f"/>
<circle cx="185.7" cy="460.4" r="1.4" fill="#12284f"/>
<circle cx="189.1" cy="460.4" r="1.4" fill="#12284f"/>
<circle cx="176.9" cy="464.2" r="1.4" fill="#12284f"/>
<circle cx="180.0" cy="464.2" r="1.4" fill="#12284f"/>
<circle cx="183.7" cy="464.2" r="1.4" fill="#12284f"/>
<circle cx="187.0" cy="464.2" r="1.4" fill="#12284f"/>
<text x="214.8" y="382.9" class="lt">M</text>
<text x="269.2" y="393.0" class="tt" textLength="9.7" lengthAdjust="spacingAndGlyphs">FII</text>
<rect x="244.0" y="416.1" width="59.0" height="42.9" fill="#d5d3d9"/>
<path d="M243.5,404.2V495.9H303.4" class="ax"/>
<path d="M240.5,495.9H243.5" class="ax"/>
<text x="238.0" y="498.0" class="tk">0</text>
<path d="M240.5,466.2H243.5" class="ax"/>
<text x="238.0" y="468.3" class="tk">50</text>
<path d="M240.5,436.5H243.5" class="ax"/>
<text x="238.0" y="438.6" class="tk">100</text>
<path d="M240.5,406.8H243.5" class="ax"/>
<text x="238.0" y="408.9" class="tk">150</text>
<path d="M260.4,495.9V498.9" class="ax"/>
<path d="M286.0,495.9V498.9" class="ax"/>
<text transform="translate(262.9,506.4) rotate(-45)" class="xl" textLength="33.4" lengthAdjust="spacingAndGlyphs">Thrombosis</text>
<text transform="translate(288.0,506.2) rotate(-45)" class="xl" textLength="42.6" lengthAdjust="spacingAndGlyphs">No Thrombosis</text>
<text transform="translate(221.7,449.9) rotate(-90)" class="yl" style="font-size:7.4px" textLength="15.4" lengthAdjust="spacingAndGlyphs">IU/dL</text>
<path d="M260.4,409.5V405.4H286.0V416.4" class="br"/>
<text x="273.2" y="403.5" class="ns">ns</text>
<path d="M252.0,437.7H269.3" class="md" stroke="#2a1a20"/>
<path d="M277.7,433.1H294.3" class="md" stroke="#283040"/>
<circle cx="260.4" cy="415.8" r="1.4" fill="#9e0d33"/>
<circle cx="260.4" cy="427.7" r="1.4" fill="#9e0d33"/>
<circle cx="263.0" cy="430.8" r="1.4" fill="#9e0d33"/>
<circle cx="258.1" cy="433.1" r="1.4" fill="#9e0d33"/>
<circle cx="253.2" cy="437.1" r="1.4" fill="#9e0d33"/>
<circle cx="255.8" cy="436.0" r="1.4" fill="#9e0d33"/>
<circle cx="263.0" cy="438.3" r="1.4" fill="#9e0d33"/>
<circle cx="265.3" cy="438.3" r="1.4" fill="#9e0d33"/>
<circle cx="267.8" cy="438.0" r="1.4" fill="#9e0d33"/>
<circle cx="258.1" cy="442.3" r="1.4" fill="#9e0d33"/>
<circle cx="263.0" cy="443.5" r="1.4" fill="#9e0d33"/>
<circle cx="258.1" cy="446.3" r="1.4" fill="#9e0d33"/>
<circle cx="263.0" cy="447.7" r="1.4" fill="#9e0d33"/>
<circle cx="260.4" cy="458.8" r="1.4" fill="#9e0d33"/>
<circle cx="288.3" cy="422.2" r="1.4" fill="#12284f"/>
<circle cx="278.8" cy="424.7" r="1.4" fill="#12284f"/>
<circle cx="283.4" cy="426.2" r="1.4" fill="#12284f"/>
<circle cx="288.3" cy="426.2" r="1.4" fill="#12284f"/>
<circle cx="293.1" cy="425.8" r="1.4" fill="#12284f"/>
<circle cx="288.3" cy="431.4" r="1.4" fill="#12284f"/>
<circle cx="283.4" cy="433.1" r="1.4" fill="#12284f"/>
<circle cx="286.0" cy="434.2" r="1.4" fill="#12284f"/>
<circle cx="288.3" cy="434.6" r="1.4" fill="#12284f"/>
<circle cx="283.4" cy="436.9" r="1.4" fill="#12284f"/>
<circle cx="286.0" cy="439.7" r="1.4" fill="#12284f"/>
<circle cx="283.4" cy="445.0" r="1.4" fill="#12284f"/>
<circle cx="288.3" cy="446.9" r="1.4" fill="#12284f"/>
<circle cx="286.0" cy="451.9" r="1.4" fill="#12284f"/>
<text x="318.6" y="383.3" class="lt">N</text>
<text x="372.6" y="393.0" class="tt" textLength="9.9" lengthAdjust="spacingAndGlyphs">FV</text>
<rect x="348.0" y="433.6" width="59.5" height="37.1" fill="#d5d3d9"/>
<path d="M347.5,404.2V495.9H407.9" class="ax"/>
<path d="M344.5,495.9H347.5" class="ax"/>
<text x="342.0" y="498.0" class="tk">0</text>
<path d="M344.5,473.6H347.5" class="ax"/>
<text x="342.0" y="475.7" class="tk">50</text>
<path d="M344.5,451.4H347.5" class="ax"/>
<text x="342.0" y="453.5" class="tk">100</text>
<path d="M344.5,429.1H347.5" class="ax"/>
<text x="342.0" y="431.2" class="tk">150</text>
<path d="M344.5,406.8H347.5" class="ax"/>
<text x="342.0" y="408.9" class="tk">200</text>
<path d="M364.4,495.9V498.9" class="ax"/>
<path d="M390.0,495.9V498.9" class="ax"/>
<text transform="translate(366.9,506.4) rotate(-45)" class="xl" textLength="33.4" lengthAdjust="spacingAndGlyphs">Thrombosis</text>
<text transform="translate(392.0,506.2) rotate(-45)" class="xl" textLength="42.6" lengthAdjust="spacingAndGlyphs">No Thrombosis</text>
<text transform="translate(325.7,449.9) rotate(-90)" class="yl" style="font-size:7.4px" textLength="15.4" lengthAdjust="spacingAndGlyphs">IU/dL</text>
<path d="M364.4,429.0V409.7H390.0V414.9" class="br"/>
<text x="377.2" y="407.8" class="ns">ns</text>
<path d="M355.9,449.4H372.7" class="md" stroke="#2a1a20"/>
<path d="M381.5,448.5H398.3" class="md" stroke="#283040"/>
<circle cx="359.0" cy="434.7" r="1.4" fill="#9e0d33"/>
<circle cx="369.9" cy="434.3" r="1.4" fill="#9e0d33"/>
<circle cx="369.9" cy="437.5" r="1.4" fill="#9e0d33"/>
<circle cx="364.4" cy="445.9" r="1.4" fill="#9e0d33"/>
<circle cx="359.0" cy="449.4" r="1.4" fill="#9e0d33"/>
<circle cx="364.4" cy="448.5" r="1.4" fill="#9e0d33"/>
<circle cx="369.9" cy="447.9" r="1.4" fill="#9e0d33"/>
<circle cx="364.4" cy="453.0" r="1.4" fill="#9e0d33"/>
<circle cx="369.9" cy="453.0" r="1.4" fill="#9e0d33"/>
<circle cx="364.4" cy="459.3" r="1.4" fill="#9e0d33"/>
<circle cx="364.4" cy="462.1" r="1.4" fill="#9e0d33"/>
<circle cx="361.6" cy="466.6" r="1.4" fill="#9e0d33"/>
<circle cx="367.2" cy="466.6" r="1.4" fill="#9e0d33"/>
<circle cx="390.0" cy="420.4" r="1.4" fill="#12284f"/>
<circle cx="390.0" cy="429.5" r="1.4" fill="#12284f"/>
<circle cx="390.0" cy="432.6" r="1.4" fill="#12284f"/>
<circle cx="384.7" cy="437.9" r="1.4" fill="#12284f"/>
<circle cx="390.0" cy="439.1" r="1.4" fill="#12284f"/>
<circle cx="387.3" cy="448.9" r="1.4" fill="#12284f"/>
<circle cx="390.0" cy="448.1" r="1.4" fill="#12284f"/>
<circle cx="395.4" cy="447.2" r="1.4" fill="#12284f"/>
<circle cx="387.3" cy="453.0" r="1.4" fill="#12284f"/>
<circle cx="392.8" cy="453.0" r="1.4" fill="#12284f"/>
<circle cx="390.0" cy="455.9" r="1.4" fill="#12284f"/>
<circle cx="395.4" cy="460.5" r="1.4" fill="#12284f"/>
<circle cx="390.0" cy="463.1" r="1.4" fill="#12284f"/>
<circle cx="390.0" cy="467.5" r="1.4" fill="#12284f"/>
<text x="424.2" y="383.0" class="lt">O</text>
<text x="476.2" y="393.0" class="tt" textLength="14.6" lengthAdjust="spacingAndGlyphs">FVII</text>
<rect x="454.0" y="427.8" width="59.1" height="46.8" fill="#d5d3d9"/>
<path d="M453.5,404.2V495.9H513.5" class="ax"/>
<path d="M450.5,495.9H453.5" class="ax"/>
<text x="448.0" y="498.0" class="tk">0</text>
<path d="M450.5,473.6H453.5" class="ax"/>
<text x="448.0" y="475.7" class="tk">50</text>
<path d="M450.5,451.4H453.5" class="ax"/>
<text x="448.0" y="453.5" class="tk">100</text>
<path d="M450.5,429.1H453.5" class="ax"/>
<text x="448.0" y="431.2" class="tk">150</text>
<path d="M450.5,406.8H453.5" class="ax"/>
<text x="448.0" y="408.9" class="tk">200</text>
<path d="M470.3,495.9V498.9" class="ax"/>
<path d="M495.9,495.9V498.9" class="ax"/>
<text transform="translate(472.8,506.4) rotate(-45)" class="xl" textLength="33.4" lengthAdjust="spacingAndGlyphs">Thrombosis</text>
<text transform="translate(497.9,506.2) rotate(-45)" class="xl" textLength="42.6" lengthAdjust="spacingAndGlyphs">No Thrombosis</text>
<text transform="translate(431.6,449.9) rotate(-90)" class="yl" style="font-size:7.4px" textLength="15.4" lengthAdjust="spacingAndGlyphs">IU/dL</text>
<path d="M470.3,427.8V409.7H495.9V414.2" class="br"/>
<text x="483.1" y="407.8" class="ns">ns</text>
<path d="M461.9,451.5H478.7" class="md" stroke="#2a1a20"/>
<path d="M487.5,448.5H503.9" class="md" stroke="#283040"/>
<circle cx="470.3" cy="433.4" r="1.4" fill="#9e0d33"/>
<circle cx="464.9" cy="441.7" r="1.4" fill="#9e0d33"/>
<circle cx="475.7" cy="441.1" r="1.4" fill="#9e0d33"/>
<circle cx="470.3" cy="443.3" r="1.4" fill="#9e0d33"/>
<circle cx="470.3" cy="446.8" r="1.4" fill="#9e0d33"/>
<circle cx="464.9" cy="449.8" r="1.4" fill="#9e0d33"/>
<circle cx="464.9" cy="453.0" r="1.4" fill="#9e0d33"/>
<circle cx="470.3" cy="451.5" r="1.4" fill="#9e0d33"/>
<circle cx="475.7" cy="453.0" r="1.4" fill="#9e0d33"/>
<circle cx="470.3" cy="456.9" r="1.4" fill="#9e0d33"/>
<circle cx="467.5" cy="463.6" r="1.4" fill="#9e0d33"/>
<circle cx="473.1" cy="463.6" r="1.4" fill="#9e0d33"/>
<circle cx="470.3" cy="467.0" r="1.4" fill="#9e0d33"/>
<circle cx="495.9" cy="420.3" r="1.4" fill="#12284f"/>
<circle cx="488.8" cy="438.4" r="1.4" fill="#12284f"/>
<circle cx="493.2" cy="440.4" r="1.4" fill="#12284f"/>
<circle cx="498.5" cy="439.5" r="1.4" fill="#12284f"/>
<circle cx="498.5" cy="443.0" r="1.4" fill="#12284f"/>
<circle cx="493.2" cy="445.0" r="1.4" fill="#12284f"/>
<circle cx="488.8" cy="448.5" r="1.4" fill="#12284f"/>
<circle cx="493.2" cy="449.2" r="1.4" fill="#12284f"/>
<circle cx="498.5" cy="448.1" r="1.4" fill="#12284f"/>
<circle cx="493.2" cy="453.0" r="1.4" fill="#12284f"/>
<circle cx="498.5" cy="453.0" r="1.4" fill="#12284f"/>
<circle cx="498.5" cy="455.6" r="1.4" fill="#12284f"/>
<circle cx="495.9" cy="460.2" r="1.4" fill="#12284f"/>
<circle cx="215.5" cy="545.4" r="1.3" fill="#9e0d33"/>
<text x="219.2" y="547.7" class="lg" textLength="34.2" lengthAdjust="spacingAndGlyphs">Thrombosis</text>
<circle cx="258" cy="545.4" r="1.3" fill="#12284f"/>
<text x="261.7" y="547.7" class="lg" textLength="44.1" lengthAdjust="spacingAndGlyphs">No Thrombosis</text>
</svg>
</body></html>
